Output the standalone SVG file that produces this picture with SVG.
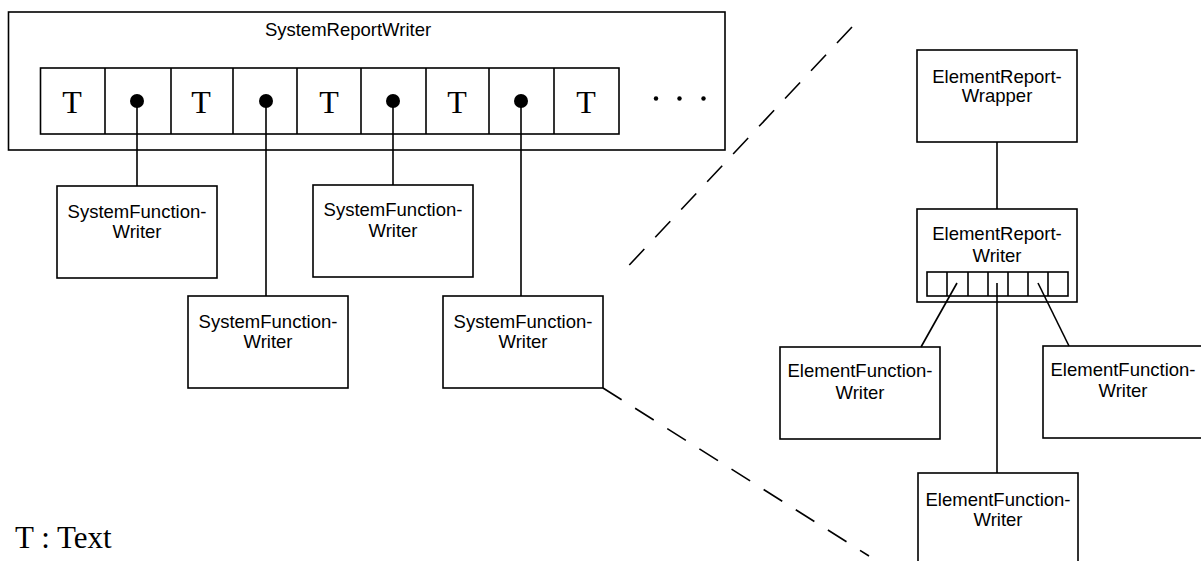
<svg xmlns="http://www.w3.org/2000/svg" width="1201" height="561" viewBox="0 0 1201 561">
<style>
.box{fill:#fff;stroke:#000;stroke-width:1.6}
.cell{fill:none;stroke:#000;stroke-width:1.6}
.ln{stroke:#000;stroke-width:1.6;fill:none}
.dash{stroke:#000;stroke-width:1.6;fill:none;stroke-dasharray:22 16}
.lbl{font-family:"Liberation Sans",Arial,sans-serif;font-size:18.5px;text-anchor:middle;fill:#000}
.t{font-family:"Liberation Serif","Times New Roman",serif;font-size:32px;text-anchor:middle;fill:#000}
</style>
<rect width="1201" height="561" fill="#fff"/>
<g id="systemReportWriter">
<rect class="box" x="8.5" y="12" width="716.5" height="138"/>
<text class="lbl" x="348" y="36">SystemReportWriter</text>
<rect class="cell" x="40.5" y="68" width="578.5" height="66"/>
<line class="ln" x1="105" y1="68" x2="105" y2="134"/>
<line class="ln" x1="171" y1="68" x2="171" y2="134"/>
<line class="ln" x1="233" y1="68" x2="233" y2="134"/>
<line class="ln" x1="297" y1="68" x2="297" y2="134"/>
<line class="ln" x1="361" y1="68" x2="361" y2="134"/>
<line class="ln" x1="426" y1="68" x2="426" y2="134"/>
<line class="ln" x1="489" y1="68" x2="489" y2="134"/>
<line class="ln" x1="554" y1="68" x2="554" y2="134"/>
<text class="t" x="72" y="113">T</text>
<text class="t" x="201" y="113">T</text>
<text class="t" x="329" y="113">T</text>
<text class="t" x="457" y="113">T</text>
<text class="t" x="586" y="113">T</text>
<circle cx="137" cy="101" r="7"/>
<circle cx="266" cy="101" r="7"/>
<circle cx="393" cy="101" r="7"/>
<circle cx="521" cy="101" r="7"/>
<circle cx="656" cy="98.5" r="2.2"/>
<circle cx="679.5" cy="98.5" r="2.2"/>
<circle cx="703.5" cy="98.5" r="2.2"/>
</g>
<g id="sfw1">
<rect class="box" x="57" y="186" width="160" height="92"/>
<text class="lbl" x="137" y="218">SystemFunction-</text>
<text class="lbl" x="137" y="238">Writer</text>
</g>
<g id="sfw2">
<rect class="box" x="188" y="296" width="160" height="92"/>
<text class="lbl" x="268" y="328">SystemFunction-</text>
<text class="lbl" x="268" y="348">Writer</text>
</g>
<g id="sfw3">
<rect class="box" x="313" y="185" width="160" height="92"/>
<text class="lbl" x="393" y="216">SystemFunction-</text>
<text class="lbl" x="393" y="237">Writer</text>
</g>
<g id="sfw4">
<rect class="box" x="443" y="296" width="160" height="92"/>
<text class="lbl" x="523" y="328">SystemFunction-</text>
<text class="lbl" x="523" y="348">Writer</text>
</g>
<g id="elementReportWrapper">
<rect class="box" x="917" y="50" width="160" height="92"/>
<text class="lbl" x="997" y="83">ElementReport-</text>
<text class="lbl" x="997" y="102">Wrapper</text>
</g>
<g id="elementReportWriter">
<rect class="box" x="917" y="209" width="160" height="93"/>
<text class="lbl" x="997" y="240">ElementReport-</text>
<text class="lbl" x="997" y="262">Writer</text>
<rect class="cell" x="927" y="272" width="141" height="24"/>
<line class="ln" x1="947" y1="272" x2="947" y2="296"/>
<line class="ln" x1="968" y1="272" x2="968" y2="296"/>
<line class="ln" x1="988" y1="272" x2="988" y2="296"/>
<line class="ln" x1="1008" y1="272" x2="1008" y2="296"/>
<line class="ln" x1="1028" y1="272" x2="1028" y2="296"/>
<line class="ln" x1="1048" y1="272" x2="1048" y2="296"/>
</g>
<g id="efw1">
<rect class="box" x="780" y="347" width="160" height="92"/>
<text class="lbl" x="860" y="377">ElementFunction-</text>
<text class="lbl" x="860" y="399">Writer</text>
</g>
<g id="efw2">
<rect class="box" x="1043" y="346" width="160" height="92"/>
<text class="lbl" x="1123" y="376">ElementFunction-</text>
<text class="lbl" x="1123" y="397">Writer</text>
</g>
<g id="efw3">
<rect class="box" x="918" y="473" width="160" height="94"/>
<text class="lbl" x="998" y="506">ElementFunction-</text>
<text class="lbl" x="998" y="526">Writer</text>
</g>
<g id="legend">
<text x="15" y="548" font-family="Liberation Serif, Times New Roman, serif" font-size="31">T : Text</text>
</g>
<g id="connectors">
<line class="ln" x1="137" y1="101" x2="137" y2="186"/>
<line class="ln" x1="266" y1="101" x2="266" y2="296"/>
<line class="ln" x1="393" y1="101" x2="393" y2="185"/>
<line class="ln" x1="521" y1="101" x2="521" y2="296"/>
<line class="ln" x1="997" y1="142" x2="997" y2="209"/>
<line class="ln" x1="957" y1="283" x2="921" y2="347"/>
<line class="ln" x1="997" y1="283" x2="997" y2="473"/>
<line class="ln" x1="1038" y1="283" x2="1069" y2="346"/>
<line class="dash" x1="852" y1="27" x2="620" y2="275"/>
<line class="dash" x1="603" y1="388" x2="869" y2="556"/>
</g>
</svg>
